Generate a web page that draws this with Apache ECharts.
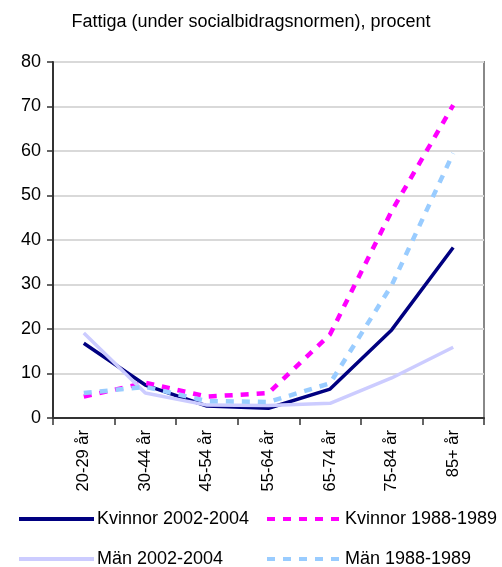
<!DOCTYPE html>
<html><head><meta charset="utf-8">
<script src="https://cdn.jsdelivr.net/npm/echarts@6/dist/echarts.min.js"></script>
<style>html,body{margin:0;padding:0;background:#fff}#c{width:502px;height:567px}</style>
</head><body><div id="c"></div>
<script>
const categories = ['20-29 år','30-44 år','45-54 år','55-64 år','65-74 år','75-84 år','85+ år'];
const kvinnor2002 = [16.8, 7.4, 2.7, 2.2, 6.5, 19.8, 38.3];
const kvinnor1988 = [4.8, 7.9, 4.8, 5.6, 18.8, 46.5, 70.3];
const man2002 = [19.1, 5.6, 2.9, 2.8, 3.3, 9.0, 15.9];
const man1988 = [5.6, 7.0, 3.8, 3.6, 7.8, 29.8, 59.5];
const title = 'Fattiga (under socialbidragsnormen), procent';
const names = ['Kvinnor 2002-2004','Kvinnor 1988-1989','Män 2002-2004','Män 1988-1989'];

const font = '"Liberation Sans", Arial, sans-serif';
const chart = echarts.init(document.getElementById('c'), null, {renderer:'canvas'});
function mk(name, data, color, dashed, width){
  return {name, type:'line', data, symbol:'none', animation:false,
    lineStyle:{color, width, type: dashed ? [8,8] : 'solid'}, itemStyle:{color}};
}
function lg(name, left, top){
  return {show:true, orient:'horizontal', data:[name], left:left, top:top,
    itemWidth:75, itemHeight:14, itemGap:0, padding:0,
    itemStyle:{opacity:0}, lineStyle:{width:4},
    textStyle:{fontFamily:font, fontSize:18, color:'#000', padding:[0,0,0,-2]}};
}
chart.setOption({
  backgroundColor:'#fff',
  title:{text:title, left:'center', top:8, textStyle:{fontFamily:font, fontSize:18, fontWeight:'normal', color:'#000'}},
  grid:{left:53, right:18, top:62, bottom:149, show:true, borderColor:'#888', borderWidth:2},
  legend:[lg(names[0],17,510), lg(names[1],265,510), lg(names[2],17,550), lg(names[3],265,550)],
  xAxis:{type:'category', data:categories, boundaryGap:true,
    axisLine:{lineStyle:{color:'#333', width:2}},
    axisTick:{show:true, length:7, lineStyle:{color:'#333', width:1.5}},
    axisLabel:{rotate:90, fontFamily:font, fontSize:16.5, color:'#000', margin:12, padding:[0,0,12,0]}},
  yAxis:{type:'value', min:0, max:80, interval:10,
    axisLine:{show:true, lineStyle:{color:'#333', width:2}},
    axisTick:{show:true, length:6, lineStyle:{color:'#333', width:1.5}},
    splitLine:{lineStyle:{color:'#d9d9d9', width:2}},
    axisLabel:{fontFamily:font, fontSize:18, color:'#000', margin:12}},
  series:[
    mk(names[0], kvinnor2002, '#000080', false, 3.5),
    mk(names[1], kvinnor1988, '#FF00FF', true, 4.5),
    mk(names[2], man2002, '#CCCCFF', false, 3.5),
    mk(names[3], man1988, '#99CCFF', true, 4.5)
  ]
});
</script></body></html>
